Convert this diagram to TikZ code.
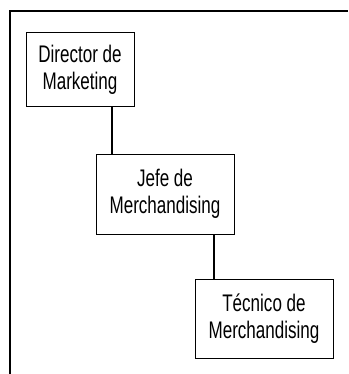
\documentclass[tikz,border=0pt]{standalone}
\usepackage{fontspec}
\setmainfont{Liberation Sans}[FakeStretch=0.71]
\usepackage{tikz}
\usetikzlibrary{calc,positioning}

\begin{document}
\begin{tikzpicture}[
	%	style def
    x=1pt, y=-1pt,
    frame line/.style={line width=2.5pt},
    link line/.style={line width=2pt},
    puesto/.style={draw, line width=1pt, align=center, inner sep=0pt,
        font=\fontsize{24}{27}\selectfont},
    every node/.style={color=black}
    ]
    \useasboundingbox (0,0) rectangle (348,374);

    % open frame (left and top only)
    \draw[frame line] (10,374) coordinate (f1) -- (10,11) coordinate (f2) -- (348,11) coordinate (f3);

    % the three posts
    \node[puesto, minimum width=108pt, minimum height=74pt] (dir) at (80,70) {Director de\\Marketing};
    \node[puesto, minimum width=138pt, minimum height=80pt] (jefe) at (165,194) {Jefe de\\Merchandising};
    \node[puesto, minimum width=138pt, minimum height=79pt] (tec) at (264,318.5) {T\'ecnico de\\Merchandising};

    % connecting the posts
    \draw[link line] ([xshift=16pt]jefe.north west) coordinate (j1) -- (j1 |- dir.south);
    \draw[link line] ([xshift=19pt]tec.north west) coordinate (t1) -- (t1 |- jefe.south);
\end{tikzpicture}
\end{document}
